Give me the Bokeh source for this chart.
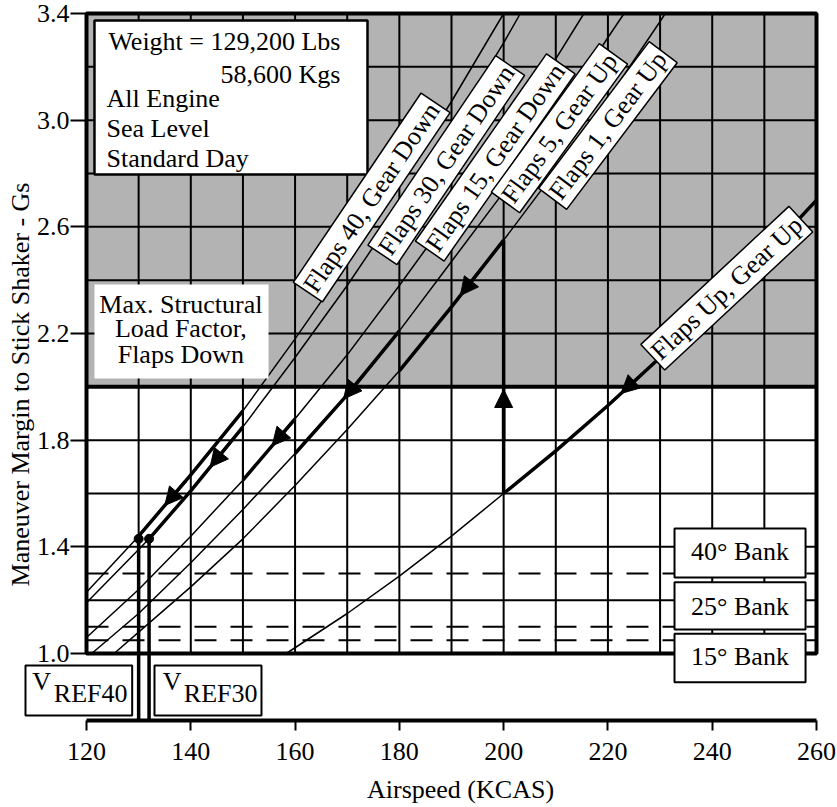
import numpy as np
from bokeh.plotting import figure
from bokeh.models import (Range1d, FixedTicker, BoxAnnotation, Label, Arrow, NormalHead)
from bokeh.embed import file_html
from bokeh.resources import INLINE

FONT = "Liberation Serif"
FS = "26px"

# ---------------- data ----------------
# Maneuver margin to stick shaker (G) vs airspeed (KCAS)
F40_V = [120, 130, 140, 150, 160, 170, 180, 190, 200]
F40_G = [1.23, 1.44, 1.67, 1.91, 2.18, 2.46, 2.76, 3.07, 3.40]
F30_V = [120, 130, 132, 140, 150, 160, 170, 180, 190, 200, 203.2]
F30_G = [1.19, 1.39, 1.43, 1.61, 1.85, 2.11, 2.38, 2.67, 2.97, 3.29, 3.40]
F15_V = [120, 130, 140, 150, 160, 170, 180, 190, 200, 210, 215.4]
F15_G = [1.06, 1.24, 1.44, 1.65, 1.88, 2.12, 2.38, 2.65, 2.93, 3.23, 3.40]
F5_V = [121, 130, 140, 150, 160, 170, 180, 190, 200, 210, 220, 223.1]
F5_G = [1.00, 1.15, 1.34, 1.54, 1.75, 1.97, 2.21, 2.47, 2.73, 3.01, 3.31, 3.40]
F1_V = [125.3, 130, 140, 150, 160, 170, 180, 190, 200, 210, 220, 230, 231]
F1_G = [1.00, 1.08, 1.25, 1.43, 1.63, 1.84, 2.06, 2.30, 2.55, 2.81, 3.08, 3.37, 3.40]
UP_V = [158.3, 170, 180, 190, 200, 210, 220, 230, 240, 250, 260]
UP_G = [1.00, 1.15, 1.29, 1.44, 1.60, 1.76, 1.93, 2.11, 2.30, 2.49, 2.70]

CURVES = {"F40": (F40_V, F40_G), "F30": (F30_V, F30_G), "F15": (F15_V, F15_G),
          "F5": (F5_V, F5_G), "F1": (F1_V, F1_G), "UP": (UP_V, UP_G)}

CURVE_LABELS = ["Flaps 40, Gear Down", "Flaps 30, Gear Down", "Flaps 15, Gear Down",
                "Flaps 5, Gear Up", "Flaps 1, Gear Up", "Flaps Up, Gear Up"]

# flap schedule (bold path): curve, from speed, to speed
SCHED_CURVE = ["UP", "F1", "F5", "F15", "F40", "F30"]
SCHED_LO = [200, 180, 160, 150, 130, 132]
SCHED_HI = [260, 200, 180, 160, 150, 150]
# flap-change steps: speed, lower curve, upper curve
STEP_V = [200, 180, 160, 150]
STEP_FROM = ["UP", "F1", "F5", "F15"]
STEP_TO = ["F1", "F5", "F15", "F40"]

VREF_V = [130, 132]
VREF_G = [1.43, 1.43]
VREF_SUB = ["REF40", "REF30"]

BANK_LABELS = ["40\u00b0 Bank", "25\u00b0 Bank", "15\u00b0 Bank"]
BANK_G = [1.30, 1.10, 1.05]

MAX_STRUCT_G = 2.0

X_TICKS = [120, 140, 160, 180, 200, 220, 240, 260]
X_TICK_LABELS = ["120", "140", "160", "180", "200", "220", "240", "260"]
Y_TICKS = [1.0, 1.4, 1.8, 2.2, 2.6, 3.0, 3.4]
Y_TICK_LABELS = ["1.0", "1.4", "1.8", "2.2", "2.6", "3.0", "3.4"]
GRID_V = [130, 140, 150, 160, 170, 180, 190, 200, 210, 220, 230, 240, 250]
GRID_G = [1.2, 1.4, 1.6, 1.8, 2.2, 2.4, 2.6, 2.8, 3.0, 3.2]

X_MIN, X_MAX = 120, 260
G_MIN, G_MAX = 1.0, 3.4
Y_AXIS_G = 0.75

GRAY = "#b3b3b3"

# The frame fills the whole canvas, so that boxes and titles outside the chart
# grid are not clipped; the axes are pinned at x=120 and G=0.75.
W, H = 837, 806
PX_PER_KT = 730 / 140
PX_PER_G = 640 / 2.4
X_START = X_MIN - 86 / PX_PER_KT
Y_END = G_MAX + 13 / PX_PER_G

p = figure(frame_width=W, frame_height=H,
           x_range=Range1d(X_START, X_START + W / PX_PER_KT),
           y_range=Range1d(Y_END - H / PX_PER_G, Y_END),
           output_backend="svg", toolbar_location=None,
           min_border_left=0, min_border_right=0, min_border_top=0, min_border_bottom=0)
p.title.visible = False
p.outline_line_color = None
p.xgrid.visible = False
p.ygrid.visible = False
p.background_fill_color = "white"
p.border_fill_color = "white"

# shaded region above max structural load factor
p.quad(left=[X_MIN], right=[X_MAX], bottom=[MAX_STRUCT_G], top=[G_MAX],
       fill_color=GRAY, line_color=None)

# grid
p.segment(x0=GRID_V, y0=[G_MIN] * len(GRID_V), x1=GRID_V, y1=[G_MAX] * len(GRID_V),
          line_color="black", line_width=2)
p.segment(x0=[X_MIN] * len(GRID_G), y0=GRID_G, x1=[X_MAX] * len(GRID_G), y1=GRID_G,
          line_color="black", line_width=2)

# bank angle lines
p.segment(x0=[X_MIN] * 3, y0=BANK_G, x1=[X_MAX] * 3, y1=BANK_G,
          line_color="black", line_width=2, line_dash="22 14")

# thin curves
for key in ["F40", "F30", "F15", "F5", "F1", "UP"]:
    vs, gs = CURVES[key]
    p.line(vs, gs, line_color="black", line_width=1.5)

# bold schedule path
for key, lo, hi in zip(SCHED_CURVE, SCHED_LO, SCHED_HI):
    vs, gs = CURVES[key]
    xs = [v for v in vs if lo <= v <= hi]
    ys = [g for v, g in zip(vs, gs) if lo <= v <= hi]
    p.line(xs, ys, line_color="black", line_width=3.5, line_join="round")

# flap change steps
for i, (v, a, b) in enumerate(zip(STEP_V, STEP_FROM, STEP_TO)):
    ga = float(np.interp(v, *CURVES[a]))
    gb = float(np.interp(v, *CURVES[b]))
    p.segment(x0=[v], y0=[ga], x1=[v], y1=[gb], line_color="black",
              line_width=3.5 if i == 0 else 2)

# max structural load factor line
p.line([X_MIN, X_MAX], [MAX_STRUCT_G, MAX_STRUCT_G], line_color="black", line_width=4)

# VREF markers
p.segment(x0=VREF_V, y0=VREF_G, x1=VREF_V, y1=[Y_AXIS_G] * 2, line_color="black", line_width=3.5)
p.scatter(VREF_V, VREF_G, size=9, color="black")

# axes (pinned)
p.xaxis.fixed_location = Y_AXIS_G
p.yaxis.fixed_location = X_MIN
p.xaxis.ticker = FixedTicker(ticks=X_TICKS)
p.xaxis.major_label_overrides = {t: l for t, l in zip(X_TICKS, X_TICK_LABELS)}
p.xaxis.bounds = (X_MIN, X_MAX)
p.yaxis.ticker = FixedTicker(ticks=Y_TICKS)
p.yaxis.major_label_overrides = {t: l for t, l in zip(Y_TICKS, Y_TICK_LABELS)}
p.yaxis.bounds = (G_MIN, G_MAX)
for ax in (p.xaxis, p.yaxis):
    ax.major_label_text_font = FONT
    ax.major_label_text_font_size = FS
    ax.major_label_text_color = "black"
    ax.major_tick_in = 0
    ax.major_tick_line_color = "black"
    ax.major_tick_line_width = 2
    ax.minor_tick_line_color = None
p.xaxis.axis_line_width = 4
p.xaxis.axis_line_color = "black"
p.xaxis.major_tick_out = 10
p.xaxis.major_label_standoff = 13
p.yaxis.axis_line_color = None
p.yaxis.major_tick_out = 16
p.yaxis.major_label_standoff = 1

# frame border of the chart grid
p.add_layout(BoxAnnotation(left=X_MIN, right=X_MAX, bottom=G_MIN, top=G_MAX,
                           fill_alpha=0, line_color="black", line_alpha=1, line_width=4))

MID = 0.033  # offset from text baseline to text middle, in G


def box(l, r, b, t, lw=2, border=True):
    p.add_layout(BoxAnnotation(left=l, right=r, bottom=b, top=t, fill_color="white",
                               fill_alpha=1, line_color="black" if border else None,
                               line_alpha=1 if border else 0, line_width=lw))


def txt(x, y, s, align="left", angle=0, **kw):
    p.add_layout(Label(x=x, y=y, text=s, text_font=FONT, text_font_size=FS,
                       text_color="black", text_align=align, text_baseline="middle",
                       angle=angle, angle_units="deg", **kw))


# info box
box(121.53, 173.89, 2.796, 3.374, lw=2.5)
txt(168.71, 3.261 + MID, "Weight = 129,200 Lbs", align="right")
txt(168.71, 3.137 + MID, "58,600 Kgs", align="right")
txt(123.84, 3.047 + MID, "All Engine")
txt(123.84, 2.936 + MID, "Sea Level")
txt(123.84, 2.824 + MID, "Standard Day")

# max structural box
box(121.53, 154.91, 2.031, 2.384, border=False)
txt(138.1, 2.276 + MID, "Max. Structural", align="center")
txt(138.1, 2.184 + MID, "Load Factor,", align="center")
txt(138.1, 2.089 + MID, "Flaps Down", align="center")

# bank boxes
BANK_BOX = [(1.285, 1.469), (1.090, 1.267), (0.892, 1.074)]
BANK_BASE = [1.349, 1.1425, 0.955]
for lab, (b, t), yb in zip(BANK_LABELS, BANK_BOX, BANK_BASE):
    box(232.77, 257.90, b, t)
    txt(245.33, yb + MID, lab, align="center")

# VREF boxes
VREF_BOX_X = [(108.30, 128.76), (133.04, 153.56)]
VREF_TXT_X = [(109.59, 113.73), (134.63, 138.66)]
for sub, (l, r), (xv, xs) in zip(VREF_SUB, VREF_BOX_X, VREF_TXT_X):
    box(l, r, 0.7675, 0.955)
    txt(xv, 0.861 + MID, "V")
    txt(xs, 0.8174 + MID, sub)

# curve labels
LAB_V = [174.7, 189.0, 198.4, 210.7, 220.0, 242.8]
LAB_G = [2.71, 2.85, 2.86, 2.97, 2.98, 2.37]
LAB_ANG = [56, 56, 55, 54, 53, 43]
for s, v, g, a in zip(CURVE_LABELS, LAB_V, LAB_G, LAB_ANG):
    txt(v, g, s, align="center", angle=a,
        background_fill_color="white", border_line_color="black",
        border_line_width=1.5, padding=3)

# arrows along bold path
ARROW_CURVE = ["UP", "F1", "F5", "F15", "F30", "F40"]
ARROW_V = [222.5, 191.7, 169.3, 155.6, 143.7, 135.0]
for key, v in zip(ARROW_CURVE, ARROW_V):
    vs, gs = CURVES[key]
    p.add_layout(Arrow(end=NormalHead(size=18, fill_color="black", line_color="black"),
                       x_start=v + 4, y_start=float(np.interp(v + 4, vs, gs)),
                       x_end=v, y_end=float(np.interp(v, vs, gs)),
                       line_color="black", line_width=3))
p.add_layout(Arrow(end=NormalHead(size=18, fill_color="black", line_color="black"),
                   x_start=STEP_V[0], y_start=1.8, x_end=STEP_V[0], y_end=1.99,
                   line_color="black", line_width=3.5))

# axis titles
txt(191.73, 0.490, "Airspeed (KCAS)", align="center")
txt(107.25, 2.0087, "Maneuver Margin to Stick Shaker - Gs", align="center", angle=90)

open("out.html", "w").write(file_html(p, INLINE))
